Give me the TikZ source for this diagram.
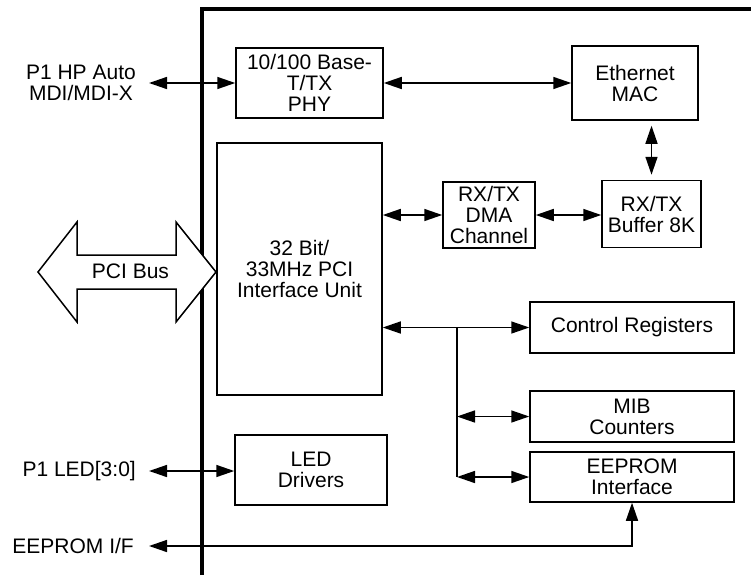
\documentclass[tikz,border=0pt]{standalone}
\usepackage{fontspec}
\setmainfont{Liberation Sans}
\usetikzlibrary{arrows.meta}
\begin{document}
\begin{tikzpicture}[x=1pt,y=-1pt,
  every node/.style={font=\fontsize{21}{21}\selectfont, align=center, inner sep=0pt},
  blk/.style={draw, line width=1.5pt, fill=white},
  arr/.style={{Triangle[length=18pt,width=12pt]}-{Triangle[length=18pt,width=12pt]}, line width=1.5pt},
  wire/.style={line width=1.5pt},
  extlbl/.style={anchor=east, inner xsep=0pt}
]
\useasboundingbox[fill=white] (0,0) rectangle (751,575);
% frame
\draw[line width=3.5pt] (202,575) -- (202,9) -- (751,9);
% PCI bus arrow
\draw[line width=1.5pt, fill=white, line join=miter]
  (38,272) -- (77,222) -- (77,255) -- (176,255) -- (176,222) -- (216,272)
  -- (176,322) -- (176,289) -- (77,289) -- (77,322) -- cycle;
\node (pcibus) at (130.5,271) {PCI Bus};
% blocks
\node[blk, minimum width=147pt, minimum height=70pt] (phy) at (309.5,83) {10/100 Base-\\T/TX\\PHY};
\node[blk, minimum width=165pt, minimum height=252pt] (pci) at (299.5,269) {32 Bit/\\33MHz PCI\\Interface Unit};
\node[blk, minimum width=126pt, minimum height=74pt] (mac) at (635,83) {Ethernet\\MAC};
\node[blk, minimum width=92pt, minimum height=66pt] (dma) at (489,215) {RX/TX\\DMA\\Channel};
\node[blk, minimum width=99pt, minimum height=67pt] (buf) at (651.5,214) {RX/TX\\Buffer 8K};
\node[blk, minimum width=204pt, minimum height=51pt] (ctrl) at (632,327.5) {Control Registers};
\node[blk, minimum width=204pt, minimum height=51pt] (mib) at (632,416.5) {MIB\\Counters};
\node[blk, minimum width=204pt, minimum height=50pt] (eep) at (632,477) {EEPROM\\Interface};
\node[blk, minimum width=152pt, minimum height=70pt] (led) at (311,470) {LED\\Drivers};
% external labels
\node[extlbl] (p1) at (136,83) {P1 HP Auto\\MDI/MDI-X};
\node[extlbl] (ledl) at (136,471) {P1 LED[3:0]};
\node[extlbl] (eepif) at (134,546) {EEPROM I/F};
% connectors
\draw[arr, shorten <=13pt] (p1.east) -- (phy.west);
\draw[arr, shorten <=13pt] (ledl.east) -- (ledl.east -| led.west);
\draw[arr] (phy.east) -- (mac.west);
\draw[arr, shorten <=5pt, shorten >=5pt] (buf.north) -- (buf.north |- mac.south);
\draw[arr] (pci.east |- dma.west) -- (dma.west);
\draw[arr] (dma.east) -- (dma.east -| buf.west);
\draw[arr] (pci.east |- ctrl.west) -- (ctrl.west);
\coordinate (j1) at (457,327.5);
\draw[wire] (j1) -- (j1 |- eep.west);
\draw[arr] (j1 |- mib.west) -- (mib.west);
\draw[arr] (j1 |- eep.west) -- (eep.west);
\draw[arr, shorten <=15pt] (eepif.east) -| (eep.south);
\end{tikzpicture}
\end{document}
